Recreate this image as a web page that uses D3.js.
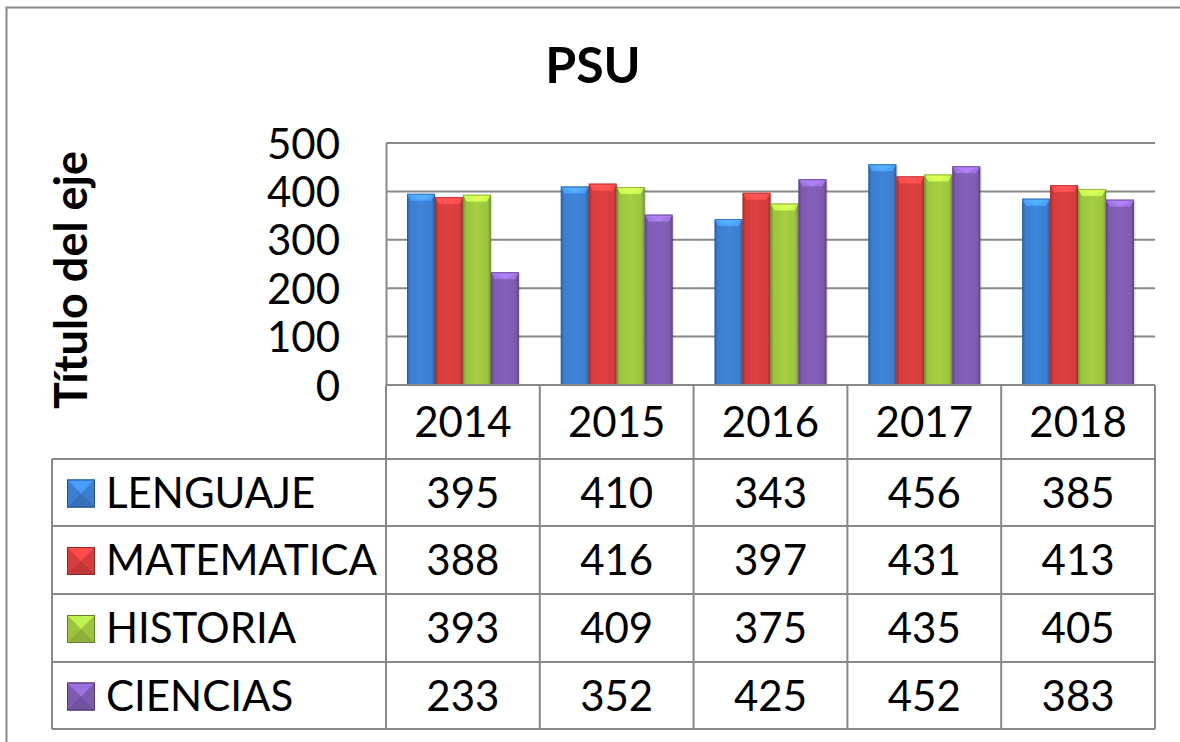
<!DOCTYPE html>
<html>
<head>
<meta charset="utf-8">
<script src="https://cdn.jsdelivr.net/npm/d3@7"></script>
<style>
  body { margin: 0; background: #fff; }
  svg { display: block; }
  text { font-family: Lato, "Open Sans", sans-serif; fill: #000; }
</style>
</head>
<body>
<svg id="chart" width="1180" height="742"></svg>
<script>
// Values
const years = ['2014', '2015', '2016', '2017', '2018'];
const seriesNames = ['LENGUAJE', 'MATEMATICA', 'HISTORIA', 'CIENCIAS'];
const lenguaje = [395, 410, 343, 456, 385];
const matematica = [388, 416, 397, 431, 413];
const historia = [393, 409, 375, 435, 405];
const ciencias = [233, 352, 425, 452, 383];
const yTicks = [0, 100, 200, 300, 400, 500];
const colors = ['#3c7ecf', '#d53d3d', '#9cc43f', '#7e5bb1'];

const values = [lenguaje, matematica, historia, ciencias];

const svg = d3.select('#chart');
const lineColor = '#888';
const fontSize = 42;

// Plot area
const plot = { left: 386, right: 1155, top: 143, bottom: 385 };
// Table rows (year row, then one per series)
const rowLines = [385, 459, 526, 594, 662, 729];
const legendLeft = 52;

const x = d3.scaleBand().domain(years).range([plot.left, plot.right]);
const y = d3.scaleLinear().domain([0, 500]).range([plot.bottom, plot.top]);
// gap width 150% of a bar
const barW = x.bandwidth() / (seriesNames.length + 1.5);
const xs = d3.scaleBand().domain(seriesNames)
  .range([barW * 0.75, barW * 0.75 + barW * seriesNames.length]);

// Outer frame, cut by the window on the right and bottom
svg.append('rect')
  .attr('x', 6.5).attr('y', 7.5)
  .attr('width', 1300).attr('height', 900)
  .attr('fill', 'none')
  .attr('stroke', lineColor)
  .attr('stroke-width', 2);

// Gradients for bevelled bars
const defs = svg.append('defs');
colors.forEach((c, i) => {
  const base = d3.color(c);
  const grad = defs.append('linearGradient')
    .attr('id', `bar${i}`)
    .attr('x1', 0).attr('x2', 1).attr('y1', 0).attr('y2', 0);
  grad.append('stop').attr('offset', 0).attr('stop-color', base.darker(0.7));
  grad.append('stop').attr('offset', 0.12).attr('stop-color', base);
  grad.append('stop').attr('offset', 0.5).attr('stop-color', base.brighter(0.15));
  grad.append('stop').attr('offset', 0.88).attr('stop-color', base);
  grad.append('stop').attr('offset', 1).attr('stop-color', base.darker(0.7));
});

// Title
svg.append('text')
  .attr('x', 593).attr('y', 83)
  .attr('text-anchor', 'middle')
  .attr('font-size', 50)
  .attr('font-weight', 'bold')
  .text('PSU');

// Axis title
svg.append('text')
  .attr('transform', 'translate(87,280) rotate(-90)')
  .attr('text-anchor', 'middle')
  .attr('font-size', 45)
  .attr('font-weight', 'bold')
  .text('Título del eje');

// Gridlines
svg.append('g')
  .selectAll('line')
  .data(yTicks.filter(d => d > 0))
  .join('line')
  .attr('x1', plot.left).attr('x2', plot.right)
  .attr('y1', d => y(d)).attr('y2', d => y(d))
  .attr('stroke', lineColor)
  .attr('stroke-width', 2);

// Y axis
const yAxis = svg.append('g')
  .attr('transform', `translate(${plot.left},0)`)
  .call(d3.axisLeft(y).tickValues(yTicks).tickSize(0).tickPadding(46));
yAxis.select('.domain').attr('stroke', lineColor).attr('stroke-width', 2);
yAxis.selectAll('text')
  .attr('font-size', fontSize)
  .attr('font-family', 'Lato, sans-serif')
  .attr('fill', '#000')
  .attr('dy', '0.36em');

// Bars
const groups = svg.append('g')
  .selectAll('g')
  .data(years)
  .join('g')
  .attr('transform', d => `translate(${x(d)},0)`);

groups.each(function (year, yi) {
  const g = d3.select(this);
  seriesNames.forEach((name, si) => {
    const v = values[si][yi];
    const bx = xs(name);
    const by = y(v);
    const h = y(0) - by;
    const w = xs.bandwidth();
    const base = d3.color(colors[si]);
    // soft shadow
    g.append('rect')
      .attr('x', bx + 1.5).attr('y', by + 1.5)
      .attr('width', w).attr('height', h)
      .attr('fill', '#000').attr('opacity', 0.12);
    g.append('rect')
      .attr('x', bx).attr('y', by)
      .attr('width', w).attr('height', h)
      .attr('fill', `url(#bar${si})`);
    // top bevel
    g.append('polygon')
      .attr('points', [[bx, by], [bx + w, by], [bx + w - 4, by + 7], [bx + 4, by + 7]].join(' '))
      .attr('fill', base.brighter(0.7));
    g.append('polygon')
      .attr('points', [[bx + 3, by + 1], [bx + w - 3, by + 1], [bx + w / 2, by + 7]].join(' '))
      .attr('fill', base.brighter(0.95));
    g.append('rect')
      .attr('x', bx + 0.5).attr('y', by + 0.5)
      .attr('width', w - 1).attr('height', h - 1)
      .attr('fill', 'none')
      .attr('stroke', base.darker(0.9))
      .attr('stroke-opacity', 0.6);
  });
});

// Data table
const table = svg.append('g');
const rowMid = i => (rowLines[i] + rowLines[i + 1]) / 2;

// horizontal lines
table.selectAll('line.h')
  .data(rowLines)
  .join('line')
  .attr('class', 'h')
  .attr('x1', (d, i) => (i === 0 ? plot.left : legendLeft))
  .attr('x2', plot.right)
  .attr('y1', d => d).attr('y2', d => d)
  .attr('stroke', lineColor)
  .attr('stroke-width', 2);

// vertical lines
const colEdges = years.map(d => x(d)).concat([plot.right]);
table.selectAll('line.v')
  .data(colEdges)
  .join('line')
  .attr('class', 'v')
  .attr('x1', d => d).attr('x2', d => d)
  .attr('y1', rowLines[0]).attr('y2', rowLines[rowLines.length - 1])
  .attr('stroke', lineColor)
  .attr('stroke-width', 2);
table.append('line')
  .attr('x1', legendLeft).attr('x2', legendLeft)
  .attr('y1', rowLines[1]).attr('y2', rowLines[rowLines.length - 1])
  .attr('stroke', lineColor)
  .attr('stroke-width', 2);

// year row
table.selectAll('text.year')
  .data(years)
  .join('text')
  .attr('class', 'year')
  .attr('x', d => x(d) + x.bandwidth() / 2)
  .attr('y', rowMid(0))
  .attr('dy', '0.36em')
  .attr('text-anchor', 'middle')
  .attr('font-size', fontSize)
  .text(d => d);

// series rows
seriesNames.forEach((name, si) => {
  const cy = rowMid(si + 1);
  table.selectAll(`text.v${si}`)
    .data(values[si])
    .join('text')
    .attr('class', `v${si}`)
    .attr('x', (d, i) => x(years[i]) + x.bandwidth() / 2)
    .attr('y', cy)
    .attr('dy', '0.36em')
    .attr('text-anchor', 'middle')
    .attr('font-size', fontSize)
    .text(d => d);

  // legend key: pyramid-bevelled square
  const base = d3.color(colors[si]);
  const k = 28;
  const kx = 67;
  const ky = cy - k / 2 + 1;
  const key = table.append('g').attr('transform', `translate(${kx},${ky})`);
  key.append('rect').attr('width', k).attr('height', k).attr('fill', base);
  key.append('polygon')
    .attr('points', [[0, 0], [k, 0], [k / 2, k / 2]].join(' '))
    .attr('fill', base.brighter(0.6));
  key.append('polygon')
    .attr('points', [[0, k], [k, k], [k / 2, k / 2]].join(' '))
    .attr('fill', base.darker(0.3));
  key.append('rect')
    .attr('x', 0.5).attr('y', 0.5).attr('width', k - 1).attr('height', k - 1)
    .attr('fill', 'none').attr('stroke', base.darker(1.2));

  table.append('text')
    .attr('x', 106)
    .attr('y', cy)
    .attr('dy', '0.36em')
    .attr('font-size', fontSize)
    .text(name);
});
</script>
</body>
</html>
